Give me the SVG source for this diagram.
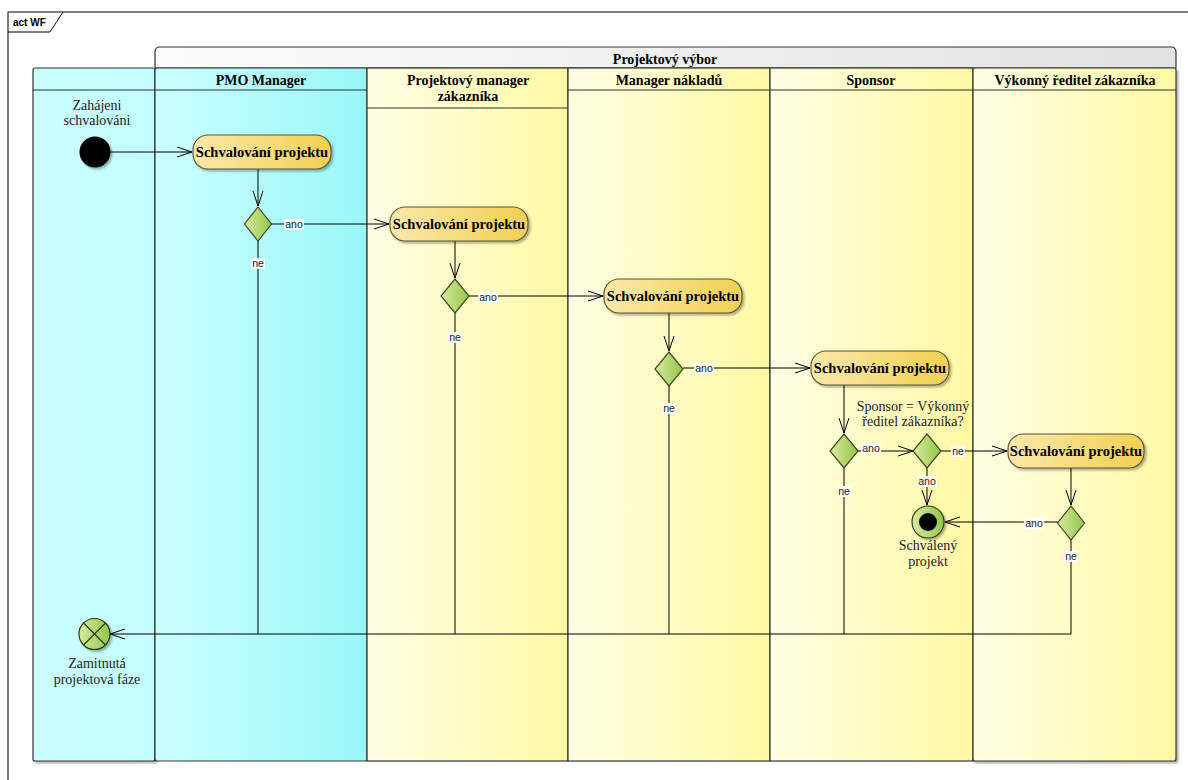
<svg xmlns="http://www.w3.org/2000/svg" width="1188" height="780" viewBox="0 0 1188 780">
<defs>
<linearGradient id="gCyanL" x1="0" y1="0" x2="1" y2="0"><stop offset="0" stop-color="#ccffff"/><stop offset="1" stop-color="#c2fdfd"/></linearGradient>
<linearGradient id="gCyan" x1="0" y1="0" x2="1" y2="0"><stop offset="0" stop-color="#ccffff"/><stop offset="1" stop-color="#99f7f8"/></linearGradient>
<linearGradient id="gYel" x1="0" y1="0" x2="1" y2="0"><stop offset="0" stop-color="#fffee4"/><stop offset="1" stop-color="#fff9a4"/></linearGradient>
<linearGradient id="gGrey" x1="0" y1="0" x2="1" y2="0"><stop offset="0" stop-color="#fcfcfc"/><stop offset="1" stop-color="#e2e2e2"/></linearGradient>
<linearGradient id="gAct" x1="0" y1="0" x2="1" y2="0"><stop offset="0" stop-color="#fbe8aa"/><stop offset="1" stop-color="#f1d052"/></linearGradient>
<linearGradient id="gDia" x1="0" y1="0" x2="1" y2="0"><stop offset="0" stop-color="#d6eaa0"/><stop offset="1" stop-color="#92c646"/></linearGradient>
<marker id="arr" markerUnits="userSpaceOnUse" markerWidth="16" markerHeight="12" refX="15" refY="6" orient="auto">
<path d="M0,1 L15,6 L0,11" fill="none" stroke="#000" stroke-width="1"/>
</marker>
<filter id="sh" x="-10%" y="-10%" width="130%" height="140%"><feDropShadow dx="2" dy="2" stdDeviation="1" flood-color="#000" flood-opacity="0.3"/></filter>
</defs>
<style>
.lane{stroke:#333;stroke-width:1.2}
.hdr{font-family:"Liberation Serif","Times New Roman",serif;font-weight:bold;font-size:14px;fill:#000;text-anchor:middle}
.act{fill:url(#gAct);stroke:#5c5434;stroke-width:1.2;filter:url(#sh)}
.actt{font-family:"Liberation Serif","Times New Roman",serif;font-weight:bold;font-size:14.5px;fill:#000;text-anchor:middle}
.dia{fill:url(#gDia);stroke:#3e4a1c;stroke-width:1.2}
.txt{font-family:"Liberation Serif","Times New Roman",serif;font-size:14px;fill:#222;text-anchor:middle}
.lbl{font-family:"Liberation Sans",Arial,sans-serif;font-size:10.5px;fill:#222;text-anchor:middle}
.lblbg{fill:#fff;opacity:0.9}
.con{fill:none;stroke:#000;stroke-width:1}
</style>
<rect width="1188" height="780" fill="#fff"/>
<g id="frame">
<rect x="8" y="12" width="1200" height="800" fill="#fff" stroke="#000" stroke-width="1"/>
<path d="M8,32 H50 L63,12" fill="none" stroke="#000" stroke-width="1"/>
<text x="13" y="26" font-family="Liberation Sans,Arial,sans-serif" font-weight="bold" font-size="10px">act WF</text>
</g>
<g id="lanes">
<path d="M155,68 V52 Q155,47 160,47 H1171 Q1176,47 1176,52 V68 Z" fill="url(#gGrey)" class="lane"/>
<text class="hdr" x="665" y="64">Projektový výbor</text>
<rect x="33" y="68" width="122" height="693" rx="2" fill="url(#gCyanL)" class="lane" filter="url(#sh)"/>
<rect x="155" y="68" width="212" height="693" rx="2" fill="url(#gCyan)" class="lane"/>
<line x1="33" y1="90" x2="367" y2="90" class="lane"/>
<text class="hdr" x="261" y="85">PMO Manager</text>
<rect x="367" y="68" width="201" height="693" fill="url(#gYel)" class="lane"/>
<line x1="367" y1="108" x2="568" y2="108" class="lane"/>
<text class="hdr" x="468" y="85">Projektový manager</text>
<text class="hdr" x="468" y="101">zákazníka</text>
<rect x="568" y="68" width="202" height="693" fill="url(#gYel)" class="lane"/>
<line x1="568" y1="90" x2="770" y2="90" class="lane"/>
<text class="hdr" x="669" y="85">Manager nákladů</text>
<rect x="770" y="68" width="203" height="693" fill="url(#gYel)" class="lane"/>
<line x1="770" y1="90" x2="973" y2="90" class="lane"/>
<text class="hdr" x="871" y="85">Sponsor</text>
<rect x="973" y="68" width="203" height="693" rx="2" fill="url(#gYel)" class="lane" filter="url(#sh)"/>
<line x1="973" y1="90" x2="1176" y2="90" class="lane"/>
<text class="hdr" x="1075" y="85">Výkonný ředitel zákazníka</text>
</g>
<g id="connectors">
<path class="con" d="M110,152 H192" marker-end="url(#arr)"/>
<path class="con" d="M258,169 V206" marker-end="url(#arr)"/>
<path class="con" d="M271,224 H389" marker-end="url(#arr)"/>
<path class="con" d="M258,241 V634"/>
<path class="con" d="M455,241 V278" marker-end="url(#arr)"/>
<path class="con" d="M469,296 H603" marker-end="url(#arr)"/>
<path class="con" d="M455,313 V634"/>
<path class="con" d="M669,313 V351" marker-end="url(#arr)"/>
<path class="con" d="M683,368 H810" marker-end="url(#arr)"/>
<path class="con" d="M669,386 V634"/>
<path class="con" d="M844,385 V433" marker-end="url(#arr)"/>
<path class="con" d="M858,451 H913" marker-end="url(#arr)"/>
<path class="con" d="M844,468 V634"/>
<path class="con" d="M941,451 H1007" marker-end="url(#arr)"/>
<path class="con" d="M927,468 V505" marker-end="url(#arr)"/>
<path class="con" d="M1071,468 V505" marker-end="url(#arr)"/>
<path class="con" d="M1058,522 H945" marker-end="url(#arr)"/>
<path class="con" d="M1071,540 V634 H110" marker-end="url(#arr)"/>
<rect class="lblbg" x="284" y="219" width="20" height="11"/><text class="lbl" x="294" y="228">ano</text>
<rect class="lblbg" x="251" y="258" width="14" height="11"/><text class="lbl" x="258" y="267">ne</text>
<rect class="lblbg" x="478" y="292" width="20" height="11"/><text class="lbl" x="488" y="301">ano</text>
<rect class="lblbg" x="448" y="332" width="14" height="11"/><text class="lbl" x="455" y="341">ne</text>
<rect class="lblbg" x="694" y="363" width="20" height="11"/><text class="lbl" x="704" y="372">ano</text>
<rect class="lblbg" x="662" y="403" width="14" height="11"/><text class="lbl" x="669" y="412">ne</text>
<rect class="lblbg" x="861" y="443" width="20" height="11"/><text class="lbl" x="871" y="452">ano</text>
<rect class="lblbg" x="837" y="486" width="14" height="11"/><text class="lbl" x="844" y="495">ne</text>
<rect class="lblbg" x="951" y="446" width="14" height="11"/><text class="lbl" x="958" y="455">ne</text>
<rect class="lblbg" x="917" y="476" width="20" height="11"/><text class="lbl" x="927" y="485">ano</text>
<rect class="lblbg" x="1024" y="518" width="20" height="11"/><text class="lbl" x="1034" y="527">ano</text>
<rect class="lblbg" x="1064" y="551" width="14" height="11"/><text class="lbl" x="1071" y="560">ne</text>
</g>
<g id="start">
<circle cx="95" cy="152" r="15.5" fill="#000" filter="url(#sh)"/>
<text class="txt" x="97" y="110">Zahájeni</text>
<text class="txt" x="97" y="125">schvalováni</text>
</g>
<g id="action1"><rect class="act" x="193" y="135" width="138" height="34" rx="15"/><text class="actt" x="262" y="157">Schvalování projektu</text></g>
<g id="decision1"><path class="dia" d="M258,207 L271.5,224 L258,241 L244.5,224 Z"/></g>
<g id="action2"><rect class="act" x="390" y="207" width="138" height="34" rx="15"/><text class="actt" x="459" y="229">Schvalování projektu</text></g>
<g id="decision2"><path class="dia" d="M455,279 L469,296 L455,313 L441,296 Z"/></g>
<g id="action3"><rect class="act" x="604" y="279" width="138" height="34" rx="15"/><text class="actt" x="673" y="301">Schvalování projektu</text></g>
<g id="decision3"><path class="dia" d="M669,352 L683,369 L669,386 L655,369 Z"/></g>
<g id="action4"><rect class="act" x="811" y="351" width="138" height="34" rx="15"/><text class="actt" x="880" y="373">Schvalování projektu</text></g>
<g id="decision4"><path class="dia" d="M844,434 L858,451 L844,468 L830,451 Z"/></g>
<g id="decision5">
<path class="dia" d="M927,434 L941,451 L927,468 L913,451 Z"/>
<text class="txt" x="913" y="411">Sponsor = Výkonný</text>
<text class="txt" x="913" y="426">ředitel zákazníka?</text>
</g>
<g id="action5"><rect class="act" x="1008" y="434" width="136" height="34" rx="15"/><text class="actt" x="1076" y="456">Schvalování projektu</text></g>
<g id="decision6"><path class="dia" d="M1071,506 L1084.5,523 L1071,540 L1057.5,523 Z"/></g>
<g id="final">
<circle cx="928" cy="522" r="16" fill="url(#gDia)" stroke="#2e3a14" stroke-width="1.2" filter="url(#sh)"/>
<circle cx="928" cy="522" r="9" fill="#000"/>
<text class="txt" x="928" y="550">Schválený</text>
<text class="txt" x="928" y="566">projekt</text>
</g>
<g id="reject">
<circle cx="94.5" cy="634" r="15.5" fill="url(#gDia)" stroke="#2e3a14" stroke-width="1.2" filter="url(#sh)"/>
<path d="M83.5,623 L105.5,645 M105.5,623 L83.5,645" stroke="#2e3a14" stroke-width="1.2"/>
<text class="txt" x="97" y="668">Zamitnutá</text>
<text class="txt" x="97" y="684">projektová fáze</text>
</g>
</svg>
